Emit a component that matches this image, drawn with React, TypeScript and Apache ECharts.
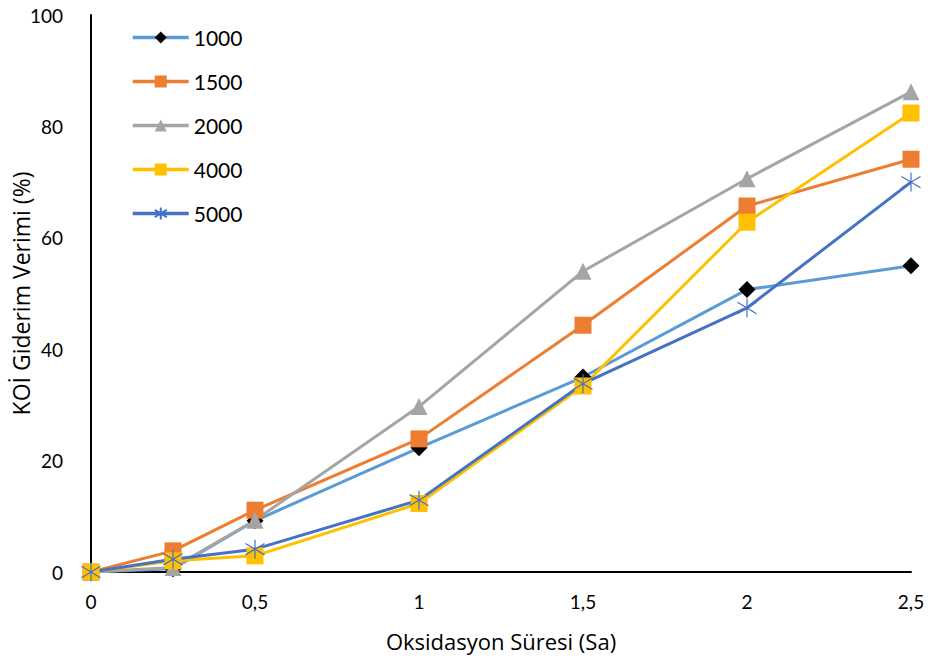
import React, { useEffect, useRef } from "react";
import * as echarts from "echarts";

const xValues = [0, 0.25, 0.5, 1, 1.5, 2, 2.5];
const seriesNames = ["1000", "1500", "2000", "4000", "5000"];
const s1000 = [0, 0.6, 9.2, 22.3, 35, 50.7, 55];
const s1500 = [0, 3.8, 11.1, 23.9, 44.3, 65.7, 74.1];
const s2000 = [0, 0.8, 9.3, 29.7, 54, 70.6, 86.2];
const s4000 = [0, 2, 2.9, 12.3, 33.4, 62.8, 82.4];
const s5000 = [0, 2.3, 4.1, 12.9, 33.8, 47.4, 70];
const yTicks = [0, 20, 40, 60, 80, 100];

const FONT = "Lato, 'Open Sans', sans-serif";
const NAME_FONT = "'Open Sans', Lato, sans-serif";
const ASTERISK = "path://M0,-10L0,10M-9,-6L9,6M-9,6L9,-6";

export default function App() {
  const ref = useRef<HTMLDivElement>(null);
  useEffect(() => {
    if (!ref.current) return;
    const chart = echarts.init(ref.current, undefined, { renderer: "svg" });
    const mk = (name: string, data: number[], color: string, symbol: string, symColor: string, size: number, extra: any = {}) => ({
      name,
      type: "line",
      data: xValues.map((x, i) => [x, data[i]]),
      symbol,
      symbolSize: size,
      showAllSymbol: true,
      lineStyle: { color, width: 3 },
      itemStyle: { color: symColor, ...extra },
      emphasis: { disabled: true },
    });
    chart.setOption({
      animation: false,
      textStyle: { fontFamily: FONT },
      grid: { left: 91, right: 17, top: 15, bottom: 90, outerBoundsMode: "none", containLabel: false },
      legend: {
        orient: "vertical",
        left: 126,
        top: 22,
        itemWidth: 56,
        itemHeight: 15,
        itemGap: 23,
        lineStyle: { width: 3.5 },
        textStyle: { fontSize: 21, color: "#000", fontFamily: FONT },
        data: seriesNames,
      },
      xAxis: {
        type: "value",
        min: 0,
        max: 2.5,
        interval: 0.5,
        name: "Oksidasyon Süresi (Sa)",
        nameLocation: "middle",
        nameGap: 58,
        nameTextStyle: { fontSize: 22, color: "#000", fontFamily: NAME_FONT },
        axisLine: { lineStyle: { color: "#000", width: 2 } },
        axisTick: { show: false },
        splitLine: { show: false },
        axisLabel: {
          fontSize: 19,
          color: "#000",
          margin: 20,
          formatter: (v: number) => String(v).replace(".", ","),
        },
      },
      yAxis: {
        type: "value",
        min: yTicks[0],
        max: yTicks[yTicks.length - 1],
        interval: 20,
        name: "KOİ Giderim Verimi (%)",
        nameLocation: "middle",
        nameGap: 59,
        nameMoveOverlap: false,
        nameTextStyle: { fontSize: 23, color: "#000", fontFamily: NAME_FONT },
        axisLine: { show: true, lineStyle: { color: "#000", width: 2 } },
        axisTick: { show: false },
        splitLine: { show: false },
        axisLabel: { fontSize: 19, color: "#000", margin: 28 },
      },
      series: [
        mk("1000", s1000, "#5B9BD5", "diamond", "#000000", 17),
        mk("1500", s1500, "#ED7D31", "rect", "#ED7D31", 17),
        mk("2000", s2000, "#A5A5A5", "triangle", "#A5A5A5", 17),
        mk("4000", s4000, "#FFC000", "rect", "#FFC000", 17),
        mk("5000", s5000, "#4472C4", ASTERISK, "#4472C4", 19, { borderColor: "#4472C4", borderWidth: 1.2 }),
      ],
    });
    return () => chart.dispose();
  }, []);
  return <div ref={ref} style={{ width: 928, height: 662, position: "absolute", left: 0, top: 0 }} />;
}
